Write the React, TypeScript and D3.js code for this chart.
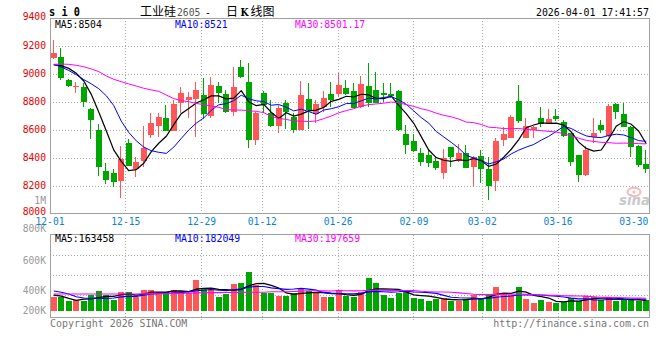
import React from "react";
import * as d3 from "d3";

// ---------- data ----------
const dates = [
  "12-01","12-02","12-03","12-04","12-05","12-08","12-09","12-10","12-11","12-12",
  "12-15","12-16","12-17","12-18","12-19","12-22","12-23","12-24","12-25","12-26",
  "12-29","12-30","12-31","01-05","01-06","01-07","01-08","01-09","01-12","01-13",
  "01-14","01-15","01-16","01-19","01-20","01-21","01-22","01-23","01-26","01-27",
  "01-28","01-29","01-30","02-02","02-03","02-04","02-05","02-06","02-09","02-10",
  "02-11","02-12","02-13","02-24","02-25","02-26","02-27","03-02","03-03","03-04",
  "03-05","03-06","03-09","03-10","03-11","03-12","03-13","03-16","03-17","03-18",
  "03-19","03-20","03-23","03-24","03-25","03-26","03-27","03-30","03-31","04-01",
];
const opens = [
  9117,9119,8957,8910,8905,8750,8600,8304,8290,8238,
  8504,8324,8381,8566,8631,8686,8595,8795,8816,8824,
  8847,8702,8914,8857,8731,9052,8945,8528,8866,8719,
  8631,8795,8690,8600,8821,8712,8762,8857,8854,8902,
  8878,8766,8914,8885,8862,8857,8878,8571,8521,8433,
  8419,8378,8295,8478,8378,8433,8333,8414,8321,8238,
  8528,8545,8807,8545,8600,8683,8647,8700,8654,8576,
  8421,8278,8547,8635,8557,8785,8714,8624,8485,8357,
];
const highs = [
  9243,9188,8965,8945,8933,8760,8640,8362,8324,8485,
  8535,8404,8631,8721,8724,8776,8814,8904,8874,8945,
  8969,8978,8945,8885,9052,9100,9076,8725,8881,8814,
  8778,8814,8719,8952,8933,8814,8878,8945,9004,8957,
  8933,8985,9076,9016,8933,8933,8885,8635,8571,8474,
  8457,8409,8466,8480,8497,8493,8415,8457,8409,8545,
  8624,8709,8921,8688,8630,8766,8750,8750,8671,8580,
  8425,8488,8688,8671,8785,8790,8790,8630,8490,8457,
];
const lows = [
  9110,8960,8905,8862,8766,8538,8274,8212,8195,8116,
  8340,8266,8333,8543,8547,8595,8590,8719,8688,8552,
  8676,8688,8790,8719,8700,8975,8469,8493,8719,8624,
  8581,8607,8581,8600,8604,8647,8731,8762,8838,8850,
  8755,8760,8766,8790,8802,8830,8590,8428,8440,8343,
  8338,8314,8250,8338,8370,8325,8195,8219,8100,8166,
  8488,8540,8647,8540,8545,8624,8640,8666,8550,8343,
  8231,8270,8504,8576,8547,8676,8620,8404,8333,8295,
];
const closes = [
  9152,8969,8916,8912,8802,8674,8338,8245,8231,8393,
  8345,8371,8471,8650,8690,8595,8785,8864,8835,8883,
  8716,8921,8862,8731,8909,8981,8528,8719,8778,8628,
  8759,8731,8600,8850,8743,8785,8831,8814,8921,8854,
  8759,8928,8790,8795,8852,8843,8600,8493,8452,8374,
  8366,8331,8397,8409,8435,8331,8409,8324,8202,8521,
  8571,8695,8666,8628,8619,8643,8678,8676,8559,8374,
  8278,8457,8576,8600,8771,8731,8624,8481,8350,8324,
];
const volumes = [
  220000,221000,154000,165000,154000,247000,308000,247000,170000,293000,
  293000,220000,324000,324000,293000,293000,324000,308000,273000,478000,
  355000,339000,216000,262000,421000,432000,601000,396000,273000,273000,
  231000,231000,273000,355000,308000,273000,216000,216000,324000,239000,
  220000,288000,513000,436000,247000,205000,273000,313000,205000,190000,
  159000,180000,205000,154000,154000,180000,247000,205000,267000,375000,
  273000,242000,375000,190000,128000,170000,139000,119000,143000,205000,
  159000,236000,220000,170000,220000,154000,170000,170000,154000,169000,
];
// moving-average values visible before enough bars exist
const ma5Lead = [9065, 9060, 9040, 9005];
const ma10Lead = [9069, 9050, 9025, 8995, 8960, 8930, 8895, 8845, 8775];
const ma30Lead = [
  9069, 9071, 9069, 9062, 9052, 9036, 9017, 8986, 8962, 8945,
  8929, 8914, 8898, 8886, 8876, 8850, 8824, 8810, 8802, 8790,
  8781, 8771, 8762, 8745, 8743, 8742, 8738, 8733, 8724,
];
const vma5Lead = [247000, 231000, 195000, 165000];
const vma10Lead = [308000, 290000, 262000, 221000, 200000, 195000, 195000, 195000, 200000];
const vma30Lead = [
  262000, 262000, 261000, 262000, 262000, 262000, 263000, 262000, 262000, 262000,
  263000, 263000, 264000, 264000, 265000, 266000, 268000, 270000, 276000, 279000,
  281000, 283000, 284000, 285000, 286000, 287000, 288000, 289000, 290000,
];
const priceTicks = [9400, 9200, 9000, 8800, 8600, 8400, 8200, 8000];
const volTickLabels = ["1M", "800K", "600K", "400K", "200K"];
const xLabels = ["12-01", "12-15", "12-29", "01-12", "01-26", "02-09", "03-02", "03-16", "03-30"];
const priceMaText = ["MA5:8504", "MA10:8521", "MA30:8501.17"];
const volMaText = ["MA5:163458", "MA10:182049", "MA30:197659"];

// ---------- layout ----------
const W = 660, H = 360;
const L = 50, R = 649;
const P_TOP = 18, P_BOT = 214;
const V_TOP = 234.5, V_BOT = 317.5, V_BASE = 311;
const VOL_PER_PX = 15420;
const volLabelY = [204.3, 232.3, 264, 294, 314];
const volGridY = [255.5, 275.5, 295.5];
const maX = [55, 175, 295];
const MONO = "'DejaVu Sans Mono', 'Liberation Mono', monospace";
const UP = "#FF5757";
const DOWN = "#00A600";
const MA_COLORS = ["#000000", "#0000FF", "#FF00FF"];
const GRID = "#a8a8a8";
const BORDER = "#a0a0a0";

function Txt(props: {
  x: number; y: number; s: string; size?: number; fill?: string;
  anchor?: string; cw?: number; weight?: string; family?: string;
}) {
  const { x, y, s, size = 10, fill = "#000", anchor = "start", cw = 5.85, weight = "normal", family = MONO } = props;
  return (
    <text x={x} y={y} fontSize={size} fill={fill} textAnchor={anchor as any}
      fontFamily={family} fontWeight={weight}
      textLength={s.length * cw} lengthAdjust="spacingAndGlyphs">{s}</text>
  );
}

function movingAvg(vals: number[], n: number, lead: number[]) {
  return vals.map((_, i) => (i < n - 1 ? lead[i] : (d3.mean(vals.slice(i - n + 1, i + 1)) as number)));
}

export default function App() {
  const band = d3.scaleBand<string>().domain(dates).range([50, 650]).paddingInner(0.2).paddingOuter(0.1);
  const pt = d3.scalePoint<string>().domain(dates).range([L, R]);
  const y = d3.scaleLinear().domain([8000, 9400]).range([P_BOT, P_TOP]);
  const vy = d3.scaleLinear().domain([0, 1000000]).range([V_BASE, V_BASE - 1000000 / VOL_PER_PX]);
  const bw = Math.round(band.bandwidth());
  const bx = (i: number) => Math.round(band(dates[i]) as number);
  const cx = (i: number) => (band(dates[i]) as number) + band.bandwidth() / 2;

  const priceMAs = [movingAvg(closes, 5, ma5Lead), movingAvg(closes, 10, ma10Lead), movingAvg(closes, 30, ma30Lead)];
  const volMAs = [movingAvg(volumes, 5, vma5Lead), movingAvg(volumes, 10, vma10Lead), movingAvg(volumes, 30, vma30Lead)];
  const pLine = d3.line<number>().x((_, i) => cx(i)).y((d) => y(d));
  const vLine = d3.line<number>().x((_, i) => cx(i)).y((d) => vy(d));

  const gridDates = xLabels.slice(1, xLabels.length - 1);

  return (
    <svg width={W} height={H} style={{ position: "absolute", left: 0, top: 0, background: "#fff" }}>
      <rect x={0} y={0} width={W} height={H} fill="#fff" />

      {/* ---------- price panel grid ---------- */}
      <g shapeRendering="crispEdges">
        {priceTicks.slice(1, -1).map((p) => (
          <line key={p} x1={L} x2={R} y1={Math.floor(y(p)) + 0.5} y2={Math.floor(y(p)) + 0.5}
            stroke={GRID} strokeDasharray="1,2" />
        ))}
        {gridDates.map((d) => {
          const x = Math.floor(pt(d) as number) + 0.5;
          return <line key={d} x1={x} x2={x} y1={P_TOP} y2={P_BOT - 1} stroke={GRID} strokeDasharray="1,2" />;
        })}
        <line x1={L} x2={R + 1} y1={P_TOP + 0.5} y2={P_TOP + 0.5} stroke={BORDER} />
        <line x1={L + 0.5} x2={L + 0.5} y1={P_TOP} y2={P_BOT} stroke={BORDER} />
        <line x1={R + 0.5} x2={R + 0.5} y1={P_TOP} y2={P_BOT} stroke={BORDER} />
        <line x1={L} x2={R + 1} y1={P_BOT - 0.5} y2={P_BOT - 0.5} stroke={BORDER} />
      </g>

      {/* sina watermark */}
      <g opacity={0.75}>
        <ellipse cx={634} cy={192} rx={6.5} ry={4.2} fill="none" stroke="#f2a3a3" strokeWidth={2} />
        <circle cx={634} cy={192} r={1.6} fill="#f2a3a3" />
        <text x={619} y={205} fontSize={14} fontStyle="italic" fontWeight="bold"
          fontFamily="'DejaVu Sans', sans-serif" fill="#b8b8b8" textLength={31} lengthAdjust="spacingAndGlyphs">sina</text>
      </g>

      {/* candles */}
      <g shapeRendering="crispEdges">
        {dates.map((d, i) => {
          const o = opens[i], c = closes[i];
          const col = c >= o ? UP : DOWN;
          const x0 = bx(i);
          const top = Math.round(y(Math.max(o, c)));
          const bot = Math.round(y(Math.min(o, c)));
          return (
            <g key={d}>
              <line x1={x0 + 2.5} x2={x0 + 2.5} y1={Math.round(y(highs[i]))} y2={Math.round(y(lows[i]))} stroke={col} />
              <rect x={x0} y={top} width={bw} height={Math.max(1, bot - top)} fill={col} />
            </g>
          );
        })}
      </g>

      {/* price MAs */}
      {priceMAs.map((arr, k) => (
        <path key={k} d={pLine(arr) as string} fill="none" stroke={MA_COLORS[k]} strokeWidth={k === 0 ? 1.2 : 1} />
      ))}

      {/* price axis labels */}
      {priceTicks.map((p, i) => (
        <Txt key={p} x={46} y={i === 0 ? 19.5 : i === priceTicks.length - 1 ? 215 : y(p) + 3}
          s={String(p)} size={11} fill="#E80000" anchor="end" cw={5.83} />
      ))}
      {volTickLabels.map((s, i) => (
        <Txt key={s} x={46} y={volLabelY[i]} s={s} size={10} fill="#999" anchor="end" cw={5.83} />
      ))}

      {/* x labels */}
      {xLabels.map((d) => (
        <Txt key={d} x={pt(d) as number} y={225} s={d} size={10} fill="#0a84d2" anchor="middle" cw={5.8} />
      ))}

      {/* header */}
      <Txt x={49} y={15.7} s="s i 0" size={12} weight="bold" cw={6.2} />
      <text x={140} y={16} fontSize={12} fontFamily="'Noto Sans CJK SC', sans-serif" fill="#000">工业硅</text>
      <Txt x={177} y={15.7} s="2605" size={11} fill="#555" cw={5.85} />
      <Txt x={205} y={15.7} s="-" size={11} fill="#000" cw={5.85} />
      <text x={226} y={16} fontSize={12} fontFamily="'Noto Sans CJK SC', sans-serif" fill="#000">日</text>
      <text x={240.5} y={15.5} fontSize={11} fontWeight="bold" fontFamily="'DejaVu Serif', serif" fill="#000"
        textLength={8} lengthAdjust="spacingAndGlyphs">K</text>
      <text x={250.5} y={16} fontSize={12} fontFamily="'Noto Sans CJK SC', sans-serif" fill="#000">线图</text>
      <Txt x={649} y={15.7} s="2026-04-01 17:41:57" size={11} anchor="end" cw={5.95} />

      {priceMaText.map((s, k) => (
        <g key={s}>
          <rect x={maX[k] - 2} y={19.5} width={s.length * 5.85 + 4} height={10} fill="#fff" />
          <Txt x={maX[k]} y={27.5} s={s} size={10} fill={MA_COLORS[k]} cw={5.85} />
        </g>
      ))}

      {/* ---------- volume panel ---------- */}
      <g shapeRendering="crispEdges">
        {volGridY.map((g) => (
          <line key={g} x1={L} x2={R} y1={g} y2={g} stroke={GRID} strokeDasharray="1,2" />
        ))}
        {gridDates.map((d) => {
          const x = Math.floor(pt(d) as number) + 0.5;
          return <line key={d} x1={x} x2={x} y1={V_TOP} y2={V_BOT + 4} stroke={GRID} strokeDasharray="1,2" />;
        })}
      </g>
      <g shapeRendering="crispEdges">
        {dates.map((d, i) => {
          const col = closes[i] >= opens[i] ? UP : DOWN;
          const top = Math.round(vy(volumes[i]));
          return <rect key={d} x={bx(i)} y={top} width={bw} height={V_BASE - top} fill={col} />;
        })}
      </g>
      {volMAs.map((arr, k) => (
        <path key={k} d={vLine(arr) as string} fill="none" stroke={MA_COLORS[k]} strokeWidth={k === 0 ? 1.3 : 1.1} />
      ))}
      <g shapeRendering="crispEdges">
        <line x1={L} x2={R + 1} y1={V_TOP} y2={V_TOP} stroke={BORDER} />
        <line x1={L} x2={R + 1} y1={V_BOT} y2={V_BOT} stroke={BORDER} />
        <line x1={L + 0.5} x2={L + 0.5} y1={V_TOP} y2={V_BOT} stroke={BORDER} />
        <line x1={R + 0.5} x2={R + 0.5} y1={V_TOP} y2={V_BOT} stroke={BORDER} />
      </g>
      {volMaText.map((s, k) => (
        <g key={s}>
          <rect x={maX[k] - 2} y={235.5} width={s.length * 5.93 + 4} height={9} fill="#fff" />
          <Txt x={maX[k]} y={242.3} s={s} size={10} fill={MA_COLORS[k]} cw={5.93} />
        </g>
      ))}

      {/* footer */}
      <Txt x={50} y={326.7} s="Copyright 2026 SINA.COM" size={10} fill="#777" cw={5.97} />
      <Txt x={649} y={326.7} s="http://finance.sina.com.cn" size={10} fill="#777" anchor="end" cw={5.99} />
    </svg>
  );
}
